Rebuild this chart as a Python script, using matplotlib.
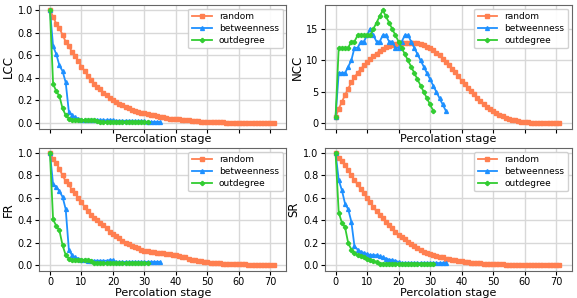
import matplotlib
matplotlib.use("Agg")
import matplotlib.pyplot as plt

series_names = ["random", "betweenness", "outdegree"]
colors = ["#ff7f50", "#1e90ff", "#32cd32"]
markers = ["s", "^", "P"]

lcc_random = [1.0, 0.94, 0.88, 0.84, 0.78, 0.72, 0.68, 0.63, 0.59, 0.55, 0.50, 0.46, 0.42, 0.38, 0.35, 0.32,
              0.30, 0.27, 0.25, 0.22, 0.20, 0.19, 0.17, 0.16, 0.14, 0.13, 0.12, 0.11, 0.10, 0.09, 0.085, 0.08,
              0.075, 0.07, 0.06, 0.055, 0.05, 0.045, 0.04, 0.038, 0.035, 0.032, 0.029, 0.026, 0.023, 0.02,
              0.018, 0.016, 0.014, 0.012, 0.011, 0.01, 0.009, 0.008, 0.007, 0.006, 0.005, 0.005, 0.004, 0.004,
              0.003, 0.003, 0.002, 0.002, 0.002, 0.001, 0.001, 0.001, 0.001, 0.0, 0.0, 0.0]
lcc_betw = [1.0, 0.68, 0.61, 0.51, 0.46, 0.36, 0.10, 0.07, 0.05, 0.04, 0.03, 0.025, 0.025, 0.025, 0.025, 0.025,
            0.025, 0.025, 0.025, 0.025, 0.025, 0.02, 0.02, 0.02, 0.02, 0.02, 0.02, 0.015, 0.015, 0.015, 0.015,
            0.01, 0.01, 0.01, 0.01, 0.01]
lcc_outd = [1.0, 0.35, 0.28, 0.24, 0.13, 0.07, 0.04, 0.03, 0.025, 0.025, 0.025, 0.025, 0.025, 0.025, 0.025,
            0.015, 0.012, 0.012, 0.012, 0.012, 0.012, 0.012, 0.012, 0.012, 0.012, 0.012, 0.012, 0.012, 0.012,
            0.012, 0.012, 0.012]

ncc_random = [1.0, 2.3, 3.4, 4.5, 5.5, 6.5, 7.3, 8.0, 8.6, 9.2, 9.7, 10.2, 10.7, 11.1, 11.5, 11.8, 12.1, 12.3,
              12.5, 12.6, 12.7, 12.75, 12.8, 12.8, 12.8, 12.8, 12.7, 12.6, 12.4, 12.2, 11.9, 11.6, 11.2, 10.8,
              10.3, 9.8, 9.3, 8.7, 8.1, 7.5, 6.8, 6.2, 5.6, 5.1, 4.6, 4.0, 3.5, 3.0, 2.6, 2.2, 1.9, 1.6, 1.3,
              1.1, 0.9, 0.7, 0.55, 0.45, 0.35, 0.27, 0.2, 0.15, 0.12, 0.09, 0.07, 0.05, 0.04, 0.03, 0.02,
              0.01, 0.01, 0.0]
ncc_betw = [1, 8, 8, 8, 9, 10, 12, 12, 13, 13, 14, 15, 14, 13, 13, 14, 14, 13, 13, 12, 12, 13, 14, 14, 13, 12,
            11, 10, 9, 8, 7, 6, 5, 4, 3, 2]
ncc_outd = [1, 12, 12, 12, 12, 13, 13, 14, 14, 14, 14, 14, 15, 16, 17, 18, 17, 16, 15, 14, 13, 12, 11, 10, 9,
            8, 7, 6, 5, 4, 3, 2]

fr_random = [1.0, 0.95, 0.91, 0.86, 0.80, 0.75, 0.72, 0.67, 0.64, 0.60, 0.56, 0.52, 0.48, 0.45, 0.42, 0.40,
             0.38, 0.36, 0.33, 0.30, 0.28, 0.26, 0.24, 0.22, 0.20, 0.19, 0.17, 0.16, 0.15, 0.14, 0.13, 0.125,
             0.12, 0.115, 0.11, 0.11, 0.105, 0.10, 0.10, 0.09, 0.09, 0.08, 0.075, 0.07, 0.06, 0.05, 0.045,
             0.04, 0.035, 0.03, 0.025, 0.022, 0.02, 0.018, 0.016, 0.015, 0.013, 0.012, 0.01, 0.01, 0.009,
             0.008, 0.007, 0.006, 0.005, 0.004, 0.003, 0.002, 0.002, 0.001, 0.001, 0.0]
fr_betw = [1.0, 0.72, 0.70, 0.66, 0.61, 0.50, 0.14, 0.09, 0.07, 0.06, 0.05, 0.045, 0.04, 0.04, 0.04, 0.04,
           0.04, 0.04, 0.04, 0.045, 0.045, 0.03, 0.03, 0.03, 0.03, 0.03, 0.03, 0.03, 0.03, 0.03, 0.03, 0.03,
           0.03, 0.03, 0.03, 0.03]
fr_outd = [1.0, 0.41, 0.35, 0.31, 0.18, 0.09, 0.06, 0.045, 0.045, 0.05, 0.05, 0.05, 0.045, 0.04, 0.02, 0.02,
           0.02, 0.02, 0.02, 0.02, 0.02, 0.02, 0.02, 0.02, 0.02, 0.02, 0.02, 0.02, 0.02, 0.02, 0.02, 0.02]

sr_random = [1.0, 0.96, 0.93, 0.89, 0.85, 0.80, 0.76, 0.72, 0.68, 0.64, 0.60, 0.56, 0.52, 0.48, 0.45, 0.42,
             0.39, 0.36, 0.33, 0.30, 0.27, 0.25, 0.23, 0.21, 0.19, 0.17, 0.15, 0.14, 0.12, 0.11, 0.10, 0.09,
             0.085, 0.075, 0.07, 0.06, 0.055, 0.05, 0.045, 0.04, 0.035, 0.03, 0.027, 0.024, 0.021, 0.018,
             0.016, 0.014, 0.012, 0.011, 0.01, 0.009, 0.008, 0.007, 0.006, 0.005, 0.005, 0.004, 0.004, 0.003,
             0.003, 0.002, 0.002, 0.002, 0.001, 0.001, 0.001, 0.001, 0.0, 0.0, 0.0, 0.0]
sr_betw = [1.0, 0.76, 0.67, 0.55, 0.50, 0.39, 0.17, 0.14, 0.12, 0.11, 0.10, 0.09, 0.09, 0.09, 0.08, 0.07,
           0.06, 0.05, 0.045, 0.04, 0.03, 0.02, 0.02, 0.02, 0.02, 0.02, 0.02, 0.02, 0.02, 0.02, 0.02, 0.02,
           0.02, 0.02, 0.02, 0.02]
sr_outd = [1.0, 0.47, 0.38, 0.34, 0.20, 0.14, 0.11, 0.09, 0.08, 0.07, 0.06, 0.05, 0.04, 0.025, 0.015, 0.015,
           0.015, 0.015, 0.015, 0.015, 0.015, 0.015, 0.015, 0.015, 0.015, 0.015, 0.015, 0.015, 0.015, 0.015,
           0.015, 0.015]

panels = [
    ("LCC", [lcc_random, lcc_betw, lcc_outd]),
    ("NCC", [ncc_random, ncc_betw, ncc_outd]),
    ("FR", [fr_random, fr_betw, fr_outd]),
    ("SR", [sr_random, sr_betw, sr_outd]),
]
x_ticks = [0, 10, 20, 30, 40, 50, 60, 70]

fig = plt.figure(figsize=(5.77, 2.98), dpi=100)
boxes = [
    [0.068, 0.568, 0.428, 0.415],
    [0.563, 0.568, 0.428, 0.415],
    [0.068, 0.091, 0.428, 0.412],
    [0.563, 0.091, 0.428, 0.412],
]
for i, (name, data) in enumerate(panels):
    ax = fig.add_axes(boxes[i])
    for vals, lab, c, m in zip(data, series_names, colors, markers):
        ax.plot(range(len(vals)), vals, color=c, marker=m, markersize=2.8, linewidth=1.3, label=lab)
    ax.set_xlim(-3.4, 75)
    ax.set_xticks(x_ticks)
    ax.grid(True, color="#d8d8d8", linewidth=1)
    ax.set_axisbelow(True)
    ax.set_ylabel(name, fontsize=8.5, labelpad=2)
    ax.set_xlabel("Percolation stage", fontsize=8, labelpad=0.5)
    ax.tick_params(labelsize=7, length=3, pad=1.5)
    for s in ax.spines.values():
        s.set_color("#666666")
    if i < 2:
        ax.tick_params(labelbottom=False)
    if name == "NCC":
        ax.set_ylim(-0.86, 18.8)
        ax.set_yticks([0, 5, 10, 15])
    else:
        ax.set_ylim(-0.05, 1.044)
        ax.set_yticks([0.0, 0.2, 0.4, 0.6, 0.8, 1.0])
    ax.legend(loc="upper right", fontsize=6.5, handlelength=2.2, borderpad=0.4,
              labelspacing=0.3, framealpha=0.9, borderaxespad=0.4)

fig.savefig("out.png", dpi=100)
